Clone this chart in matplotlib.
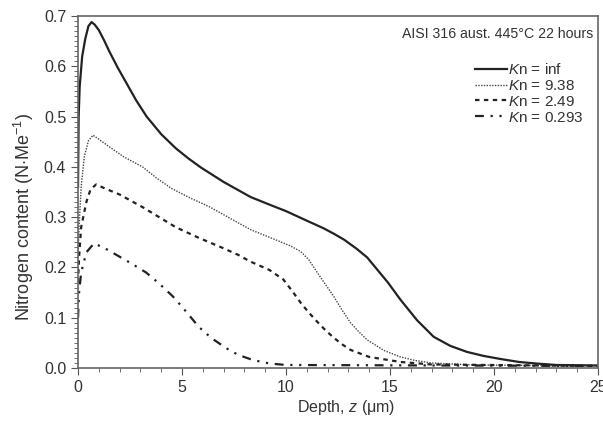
import matplotlib
matplotlib.use("Agg")
import matplotlib.pyplot as plt
from matplotlib.ticker import MultipleLocator

plt.rcParams['font.family'] = ['Liberation Sans', 'DejaVu Sans']
plt.rcParams['mathtext.fontset'] = 'custom'
plt.rcParams['mathtext.rm'] = 'Liberation Sans'
plt.rcParams['mathtext.it'] = 'Liberation Sans:italic'

# depth (um) and nitrogen content
x_inf = [0, 0.03, 0.08, 0.2, 0.35, 0.5, 0.65, 0.8, 1.0, 1.25, 1.5, 1.9, 2.35, 2.8, 3.3, 4.0, 4.7, 5.3, 5.9, 7.0, 8.3, 9.2, 10.0,
         11.0, 11.8, 12.3, 12.8, 13.4, 13.9, 14.3, 14.9, 15.5, 16.3, 17.1, 17.9, 18.7, 19.5, 20.3, 21.2, 22.0, 23.0, 25.0]
y_inf = [0.36, 0.50, 0.56, 0.62, 0.655, 0.68, 0.688, 0.683, 0.672, 0.652, 0.63, 0.598, 0.565, 0.532, 0.50, 0.465, 0.437, 0.417, 0.399,
         0.37, 0.34, 0.325, 0.312, 0.293, 0.278, 0.267, 0.255, 0.237, 0.22, 0.2, 0.17, 0.136, 0.095, 0.062, 0.044, 0.032, 0.024,
         0.018, 0.012, 0.009, 0.006, 0.005]

x_938 = [0, 0.05, 0.15, 0.3, 0.5, 0.72, 1.0, 1.5, 2.2, 3.1, 3.8, 4.5, 5.4, 6.3, 7.3, 8.3, 9.5, 10.2, 10.7, 11.1, 11.5, 11.9,
         12.3, 12.7, 13.1, 13.5, 13.9, 14.7, 15.5, 16.2, 17.0, 19.0, 25.0]
y_938 = [0.22, 0.28, 0.36, 0.42, 0.452, 0.463, 0.455, 0.44, 0.42, 0.40, 0.377, 0.357, 0.338, 0.321, 0.298, 0.275, 0.255, 0.243,
         0.232, 0.215, 0.19, 0.166, 0.142, 0.115, 0.09, 0.072, 0.056, 0.035, 0.022, 0.015, 0.01, 0.006, 0.004]

x_249 = [0, 0.05, 0.15, 0.4, 0.6, 0.87, 1.3, 2.0, 3.1, 3.9, 4.7, 5.8, 7.0, 7.7, 8.27, 9.2, 9.87, 10.3, 10.7, 11.1, 11.5, 11.9,
         12.3, 12.7, 13.1, 14.0, 15.5, 17.0, 25.0]
y_249 = [0.17, 0.22, 0.28, 0.33, 0.355, 0.365, 0.357, 0.345, 0.32, 0.30, 0.28, 0.259, 0.238, 0.225, 0.212, 0.195, 0.176, 0.153,
         0.13, 0.11, 0.092, 0.075, 0.06, 0.047, 0.036, 0.022, 0.012, 0.007, 0.004]

x_0293 = [0, 0.05, 0.15, 0.4, 0.77, 1.3, 1.97, 2.6, 3.27, 3.9, 4.57, 5.2, 5.8, 6.4, 7.1, 7.7, 8.4, 9.2, 10.0, 25.0]
y_0293 = [0.10, 0.15, 0.19, 0.23, 0.248, 0.238, 0.222, 0.207, 0.19, 0.168, 0.142, 0.112, 0.082, 0.06, 0.04, 0.026, 0.016,
          0.009, 0.006, 0.004]

labels = [r'$K$n = inf', r'$K$n = 9.38', r'$K$n = 2.49', r'$K$n = 0.293']

txt = '#333333'
fig = plt.figure(figsize=(6.03, 4.21), dpi=100)
ax = fig.add_axes([0.1294, 0.1259, 0.8623, 0.836])

ax.plot(x_inf, y_inf, color='#222222', lw=1.6, label=labels[0])
ax.plot(x_938, y_938, color='#444444', lw=1.0, dashes=(1, 1), label=labels[1])
ax.plot(x_249, y_249, color='#222222', lw=1.6, dashes=(2, 2), label=labels[2])
ax.plot(x_0293, y_0293, color='#222222', lw=1.6, dashes=(4, 3, 1, 3, 1, 3), label=labels[3])

ax.set_xlim(0, 25)
ax.set_ylim(0, 0.7)
ax.xaxis.set_major_locator(MultipleLocator(5))
ax.xaxis.set_minor_locator(MultipleLocator(1))
ax.yaxis.set_major_locator(MultipleLocator(0.1))
ax.yaxis.set_minor_locator(MultipleLocator(0.01))
ax.yaxis.set_major_formatter(plt.FormatStrFormatter('%.1f'))
ax.tick_params(which='both', direction='out', color='#555555', labelcolor=txt, labelsize=11.5)
ax.tick_params(which='major', length=5)
ax.tick_params(which='minor', length=3)
for s in ax.spines.values():
    s.set_color('#666666')
    s.set_linewidth(1.2)

ax.set_xlabel(r'Depth, $z$ ($\mathrm{\mu}$m)', color=txt, fontsize=11.5)
ax.xaxis.set_label_coords(0.515, -0.085)
ax.set_ylabel(r'Nitrogen content (N$\cdot$Me$^{-1}$)', color=txt, fontsize=13)
ax.yaxis.set_label_coords(-0.08, 0.43)
ax.text(0.99, 0.95, 'AISI 316 aust. 445\u00b0C 22 hours', transform=ax.transAxes,
        ha='right', va='center', color=txt, fontsize=10.2)

leg = ax.legend(loc='upper right', bbox_to_anchor=(0.99, 0.895), frameon=False, fontsize=11,
                handlelength=2.1, handletextpad=0.1, labelspacing=0.12, borderpad=0.1)
for t in leg.get_texts():
    t.set_color(txt)

fig.savefig('out.png', dpi=100)
